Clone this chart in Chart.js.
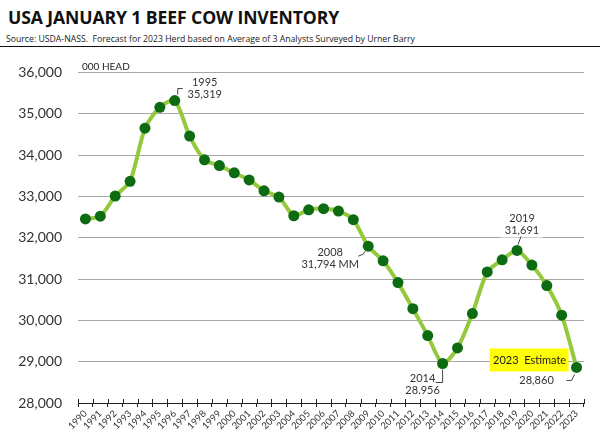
<!DOCTYPE html>
<html>
<head>
<meta charset="utf-8">
<script src="https://cdn.jsdelivr.net/npm/chart.js@4"></script>
<style>
  html, body { margin: 0; padding: 0; background: #fff; width: 600px; height: 445px; overflow: hidden; }
  #title { position: absolute; left: 8px; top: 5px; font-family: "Open Sans", sans-serif; font-weight: 700; font-size: 17.6px; color: #111; letter-spacing: -0.1px; }
  #sub { position: absolute; left: 0; top: 33px; width: 600px; height: 13px; border-bottom: 1px solid #111; }
  #sub span { position: absolute; left: 6px; top: 0; font-family: "Open Sans", sans-serif; font-size: 8.7px; color: #222; white-space: nowrap; }
  #chart { position: absolute; left: 0; top: 48px; }
</style>
</head>
<body>
<div id="title">USA JANUARY 1 BEEF COW INVENTORY</div>
<div id="sub"><span>Source: USDA-NASS.&nbsp; Forecast for 2023 Herd based on Average of 3 Analysts Surveyed by Urner Barry</span></div>
<canvas id="chart" width="600" height="397"></canvas>
<script>
const years = ["1990","1991","1992","1993","1994","1995","1996","1997","1998","1999","2000","2001","2002","2003","2004","2005","2006","2007","2008","2009","2010","2011","2012","2013","2014","2015","2016","2017","2018","2019","2020","2021","2022","2023"];
const herd = [32454,32520,33007,33365,34650,35156,35319,34458,33885,33745,33569,33398,33134,32983,32531,32674,32703,32644,32435,31794,31440,30913,30282,29631,28956,29332,30164,31171,31466,31691,31339,30842,30125,28860];
const yMin = 28000, yMax = 36000, yStep = 1000;

// callouts: index of the point they belong to and their text lines
const callouts = [
  { i: 6,  lines: ["1995", "35,319"],    dx: 30,  dy: -18 },
  { i: 19, lines: ["2008", "31,794 MM"], dx: -38, dy: 6 },
  { i: 29, lines: ["2019", "31,691"],    dx: 5,   dy: -32, box: true },
  { i: 24, lines: ["2014", "28.956"],    dx: -20, dy: 15 },
  { i: 33, lines: ["28,860"],            dx: -40, dy: 13 }
];

const lineColor = "#95c93d";
const dotColor = "#0d6b12";
const textColor = "#333";

const annotations = {
  id: "annotations",
  beforeDatasetsDraw(chart) {
    const ctx = chart.ctx;
    const x = chart.scales.x, y = chart.scales.y;
    const pt = i => ({ px: x.getPixelForValue(i), py: y.getPixelForValue(herd[i]) });
    ctx.save();

    // small tick marks above the x axis line
    ctx.strokeStyle = "#222";
    ctx.lineWidth = 1;
    const half = (x.getPixelForValue(1) - x.getPixelForValue(0)) / 2;
    for (let i = 0; i <= years.length; i++) {
      const tx = Math.round(x.getPixelForValue(i) - half) + 0.5;
      ctx.beginPath();
      ctx.moveTo(tx, chart.chartArea.bottom - 4);
      ctx.lineTo(tx, chart.chartArea.bottom);
      ctx.stroke();
    }

    // unit label
    ctx.font = "10px Lato, sans-serif";
    ctx.fillStyle = "#222";
    ctx.textAlign = "left";
    ctx.textBaseline = "middle";
    ctx.fillText("000 HEAD", chart.chartArea.left + 4, chart.chartArea.top - 6);

    // 2023 estimate box
    const last = pt(herd.length - 1);
    ctx.fillStyle = "#ffff00";
    ctx.fillRect(last.px - 87, last.py - 19, 79, 23);
    ctx.fillStyle = "#222";
    ctx.textAlign = "center";
    ctx.font = "11px Lato, sans-serif";
    ctx.fillText("2023  Estimate", last.px - 47, last.py - 7);

    ctx.font = "11px Lato, sans-serif";
    callouts.forEach(c => {
      const p = pt(c.i);
      if (c.box) {
        ctx.fillStyle = "#fff";
        ctx.fillRect(p.px + c.dx - 21, p.py + c.dy - 8, 42, 27);
      }
      ctx.fillStyle = textColor;
      c.lines.forEach((t, k) => ctx.fillText(t, p.px + c.dx, p.py + c.dy + k * 12));
    });

    // leader lines
    ctx.strokeStyle = "#444";
    ctx.lineWidth = 1;
    const leader = (i, pts) => {
      const p = pt(i);
      ctx.beginPath();
      pts.forEach(([dx, dy], k) => k ? ctx.lineTo(p.px + dx, p.py + dy) : ctx.moveTo(p.px + dx, p.py + dy));
      ctx.stroke();
    };
    leader(6, [[3, -6], [3, -12], [8, -12]]);
    leader(19, [[-10, 10], [-5, 8], [-3, 5]]);
    leader(29, [[4, -14], [1, -6]]);
    leader(24, [[0, 6], [0, 19], [-7, 19]]);
    leader(33, [[-10, 13], [-5, 13], [-2, 7]]);
    ctx.restore();
  }
};

new Chart(document.getElementById("chart"), {
  type: "line",
  data: {
    labels: years,
    datasets: [{
      data: herd,
      borderColor: lineColor,
      borderWidth: 4,
      tension: 0.25,
      pointRadius: 5.5,
      pointBackgroundColor: dotColor,
      pointBorderColor: dotColor,
      pointBorderWidth: 0,
      fill: false
    }]
  },
  options: {
    responsive: false,
    animation: false,
    devicePixelRatio: 1,
    layout: { padding: { left: 0, right: 16, top: 18, bottom: 0 } },
    plugins: { legend: { display: false }, tooltip: { enabled: false } },
    scales: {
      x: {
        offset: true,
        grid: { offset: true, drawOnChartArea: false, tickLength: 4, color: "#222" },
        border: { display: true, color: "#222", width: 1 },
        ticks: {
          autoSkip: false, maxRotation: 45, minRotation: 45, padding: 1,
          color: textColor, font: { family: "Lato, sans-serif", size: 9.5 }
        },
        afterFit(scale) { scale.height = 42; }
      },
      y: {
        min: yMin, max: yMax,
        grid: { color: "#a6a6a6", drawTicks: false },
        border: { display: false },
        ticks: {
          stepSize: yStep, padding: 16, color: textColor,
          font: { family: "Lato, sans-serif", size: 14 },
          callback: v => v.toLocaleString("en-US")
        },
        afterFit(scale) { scale.width = 78; }
      }
    }
  },
  plugins: [annotations]
});
</script>
</body>
</html>
